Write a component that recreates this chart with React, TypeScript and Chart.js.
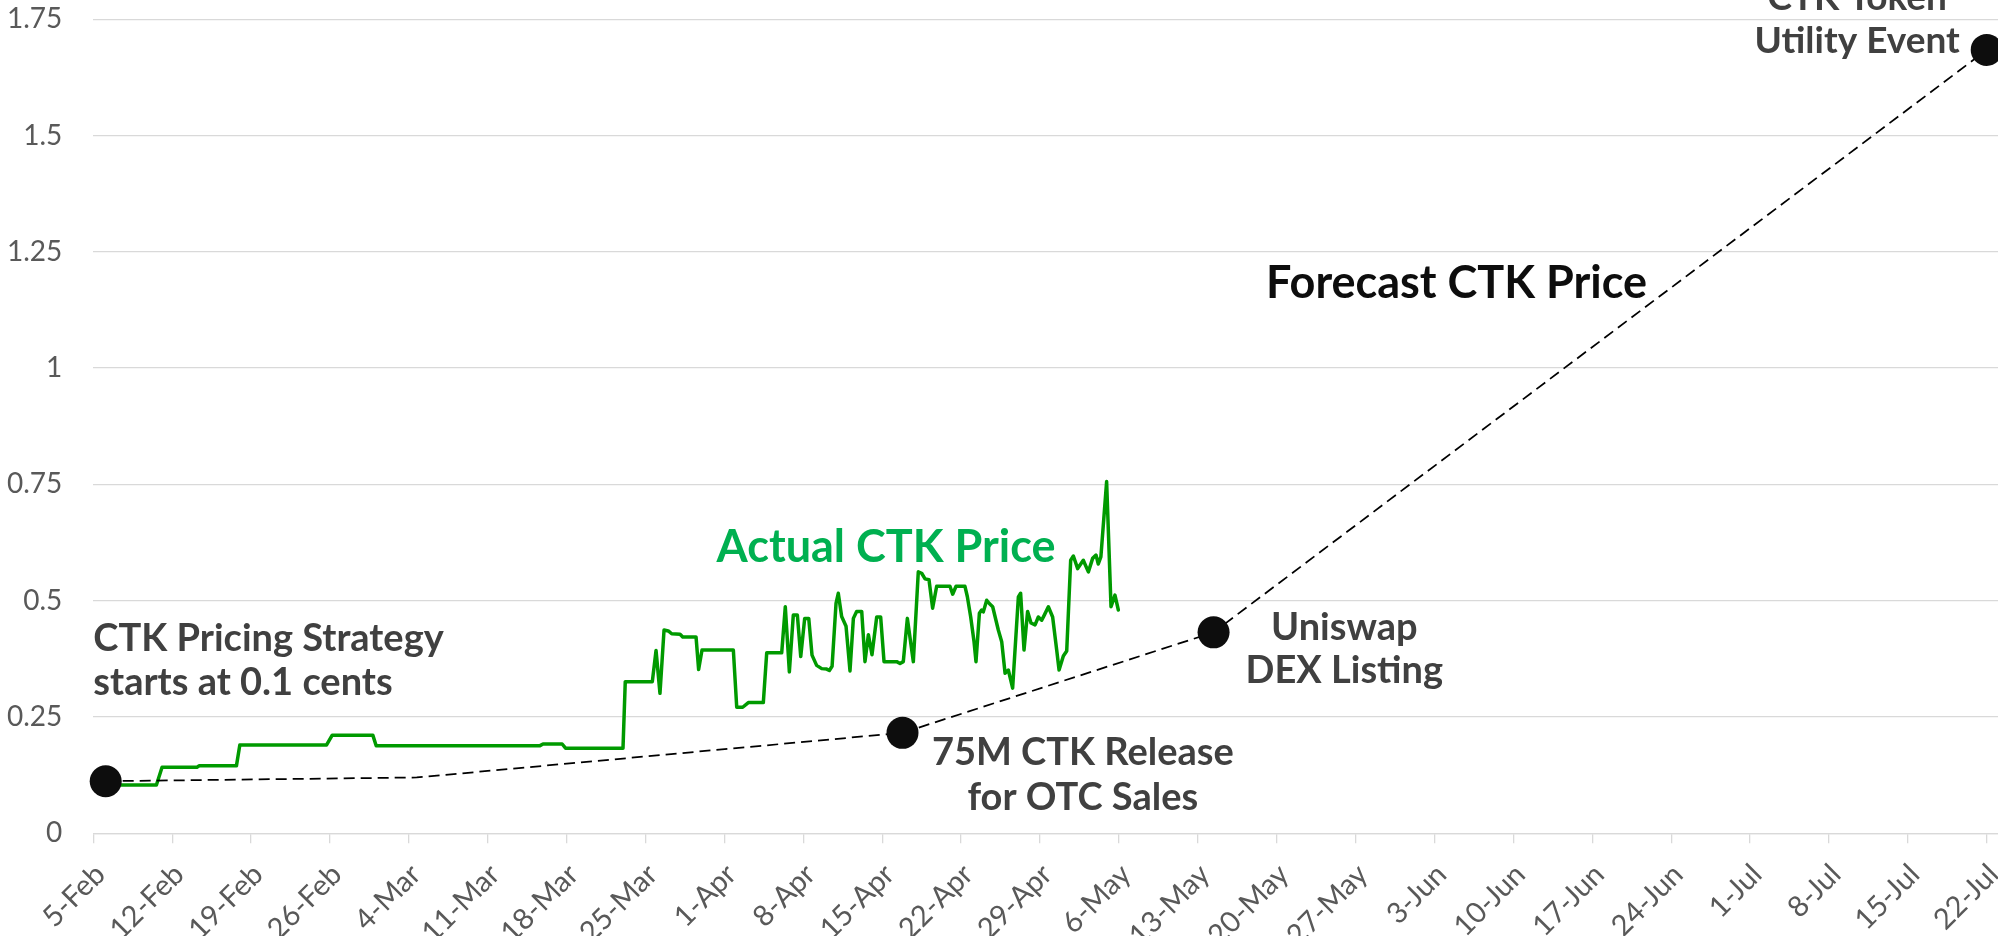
import React, { useEffect, useRef } from 'react';
import { Chart, registerables } from 'chart.js';

Chart.register(...registerables);

// ---------- data ----------
const xTickLabels = [
  '5-Feb', '12-Feb', '19-Feb', '26-Feb', '4-Mar', '11-Mar', '18-Mar', '25-Mar',
  '1-Apr', '8-Apr', '15-Apr', '22-Apr', '29-Apr', '6-May', '13-May', '20-May',
  '27-May', '3-Jun', '10-Jun', '17-Jun', '24-Jun', '1-Jul', '8-Jul', '15-Jul', '22-Jul',
];
const yTickValues = [0, 0.25, 0.5, 0.75, 1, 1.25, 1.5, 1.75];
const yTickLabels = ['0', '0.25', '0.5', '0.75', '1', '1.25', '1.5', '1.75'];

// days since 5-Feb
const actualDays = [
  1, 5.6, 6.1, 9.2, 9.4, 12.7, 13.0, 20.7, 21.2, 24.8, 25.1, 39.6, 39.9, 41.6, 41.9, 47.0, 47.2,
  49.6, 49.93, 50.28, 50.64, 51.02, 51.32, 52.06, 52.3, 53.48, 53.71, 54.01, 56.79, 57.09, 57.62,
  58.12, 59.45, 59.75, 61.08, 61.4, 61.76, 62.11, 62.47, 62.77, 63.12, 63.48, 63.77, 64.18, 64.63,
  65.07, 65.31, 65.55, 65.9, 66.1, 66.4, 66.79, 67.14,
  67.44, 67.73, 68.18, 68.47, 68.77, 69.09, 69.51, 69.86, 70.16, 71.28, 71.58, 71.87, 72.23, 72.76,
  73.2, 73.5, 73.8, 74.15, 74.47, 74.83, 76.01, 76.25, 76.55, 77.34, 77.55, 77.85, 78.14, 78.32,
  78.62, 78.82, 78.97, 79.27, 79.5, 79.8, 80.3, 80.6, 80.9, 81.19, 81.57, 82.08, 82.28, 82.58,
  82.9, 83.2, 83.56, 83.85, 84.15, 84.38, 84.74, 85.12, 85.48, 85.69, 86.07, 86.37, 86.72, 86.96,
  87.34, 87.84, 88.29, 88.67, 88.97, 89.17, 89.4, 89.91, 90.3, 90.65, 90.95,
];
const actualPrices = [
  0.104, 0.104, 0.142, 0.142, 0.145, 0.145, 0.19, 0.19, 0.211, 0.211, 0.188, 0.188, 0.192, 0.192, 0.183, 0.183, 0.326,
  0.326, 0.393, 0.301, 0.437, 0.435, 0.429, 0.428, 0.422, 0.422, 0.352, 0.394, 0.394, 0.271, 0.271,
  0.281, 0.281, 0.388, 0.388, 0.487, 0.347, 0.469, 0.469, 0.38, 0.462, 0.462, 0.383, 0.361, 0.354,
  0.353, 0.35, 0.359, 0.494, 0.516, 0.466, 0.445, 0.349,
  0.462, 0.477, 0.477, 0.369, 0.427, 0.384, 0.465, 0.465, 0.369, 0.369, 0.365, 0.369, 0.462, 0.369,
  0.562, 0.559, 0.547, 0.545, 0.484, 0.531, 0.531, 0.514, 0.531, 0.531, 0.509, 0.465, 0.413, 0.369,
  0.473, 0.48, 0.476, 0.501, 0.494, 0.487, 0.437, 0.412, 0.344, 0.351, 0.312, 0.508, 0.516, 0.394,
  0.477, 0.452, 0.448, 0.465, 0.458, 0.469, 0.487, 0.465, 0.394, 0.351, 0.381, 0.392, 0.587, 0.596,
  0.569, 0.587, 0.562, 0.591, 0.598, 0.579, 0.594, 0.756, 0.487, 0.512, 0.48,
];

const forecastDays = [1.1, 28.7, 71.8, 99.4, 168];
const forecastPrices = [0.112, 0.12, 0.216, 0.432, 1.684];
const forecastIsMilestone = [true, false, true, true, true];

// ---------- annotation text (anchored in data units) ----------
type Note = {
  lines: string[]; day: number; value: number; align: CanvasTextAlign;
  color: string; size: number; lineHeight: number;
};
const notes: Note[] = [
  { lines: ['CTK Pricing Strategy', 'starts at 0.1 cents'], day: 0, value: 0.392, align: 'left', color: '#404040', size: 38, lineHeight: 44 },
  { lines: ['75M CTK Release', 'for OTC Sales'], day: 87.8, value: 0.147, align: 'center', color: '#404040', size: 38, lineHeight: 45 },
  { lines: ['Uniswap', 'DEX Listing'], day: 111.0, value: 0.4155, align: 'center', color: '#404040', size: 38, lineHeight: 43 },
  { lines: ['CTK Token', 'Utility Event'], day: 156.5, value: 1.77, align: 'center', color: '#404040', size: 37, lineHeight: 43 },
  { lines: ['Actual CTK Price'], day: 55.3, value: 0.584, align: 'left', color: '#00B050', size: 45, lineHeight: 50 },
  { lines: ['Forecast CTK Price'], day: 104.06, value: 1.15, align: 'left', color: '#0D0D0D', size: 45, lineHeight: 50 },
];

const notesPlugin = {
  id: 'notes',
  afterDraw(chart: any) {
    const { ctx, scales } = chart;
    ctx.save();
    for (const n of notes) {
      ctx.font = `bold ${n.size}px Lato`;
      ctx.fillStyle = n.color;
      ctx.textAlign = n.align;
      ctx.textBaseline = 'alphabetic';
      const px = scales.x.getPixelForValue(n.day);
      const py = scales.y.getPixelForValue(n.value);
      n.lines.forEach((t, i) => ctx.fillText(t, px, py + i * n.lineHeight));
    }
    ctx.restore();
  },
};

export default function App() {
  const ref = useRef<HTMLCanvasElement | null>(null);

  useEffect(() => {
    document.body.style.margin = '0';
    const canvas = ref.current;
    if (!canvas) return;

    const chart = new Chart(canvas, {
      type: 'line',
      data: {
        datasets: [
          {
            label: 'Forecast CTK Price',
            data: forecastDays.map((d, i) => ({ x: d, y: forecastPrices[i] })),
            borderColor: '#000000',
            borderWidth: 1.75,
            borderDash: [11, 6],
            pointRadius: forecastIsMilestone.map((m) => (m ? 16 : 0)),
            pointHoverRadius: forecastIsMilestone.map((m) => (m ? 16 : 0)),
            pointBackgroundColor: '#0D0D0D',
            pointBorderColor: '#0D0D0D',
            pointBorderWidth: 0,
            tension: 0,
            clip: false as any,
          },
          {
            label: 'Actual CTK Price',
            data: actualDays.map((d, i) => ({ x: d, y: actualPrices[i] })),
            borderColor: '#009A00',
            borderWidth: 3.5,
            pointRadius: 0,
            borderJoinStyle: 'round',
            borderCapStyle: 'round',
            tension: 0,
          },
        ],
      },
      options: {
        animation: false,
        responsive: false,
        devicePixelRatio: 1,
        layout: { autoPadding: false, padding: { top: 19.2, left: 0, right: 0, bottom: 0 } },
        plugins: {
          legend: { display: false },
          tooltip: { enabled: false },
        },
        events: [],
        scales: {
          x: {
            type: 'linear',
            min: 0,
            max: 169,
            afterBuildTicks: (s: any) => {
              s.ticks = xTickLabels.map((_, i) => ({ value: i * 7 }));
            },
            afterFit: (s: any) => {
              s.height = 102.7;
              s.paddingLeft = 0;
              s.paddingRight = 0;
            },
            ticks: {
              autoSkip: false,
              minRotation: 45,
              maxRotation: 45,
              padding: 14,
              labelOffset: 7,
              color: '#595959',
              font: { family: 'Lato', size: 29 },
              callback: (_v: any, i: number) => xTickLabels[i],
            },
            grid: {
              drawOnChartArea: false,
              drawTicks: true,
              tickLength: 10,
              color: '#D9D9D9',
              lineWidth: 1.3,
            },
            border: { display: true, color: '#D9D9D9', width: 1.3 },
          },
          y: {
            type: 'linear',
            min: 0,
            max: 1.75,
            afterBuildTicks: (s: any) => {
              s.ticks = yTickValues.map((v) => ({ value: v }));
            },
            afterFit: (s: any) => {
              s.width = 93.3;
              s.paddingTop = 0;
              s.paddingBottom = 0;
            },
            ticks: {
              padding: 31,
              color: '#595959',
              font: { family: 'Lato', size: 28 },
              callback: (_v: any, i: number) => yTickLabels[i],
            },
            grid: { color: '#D9D9D9', lineWidth: 1.3, drawTicks: false },
            border: { display: false },
          },
        },
      },
      plugins: [notesPlugin],
    } as any);

    return () => chart.destroy();
  }, []);

  return (
    <div style={{ width: 1998, height: 936, background: '#ffffff' }}>
      <canvas ref={ref} width={1998} height={936} style={{ display: 'block' }} />
    </div>
  );
}
